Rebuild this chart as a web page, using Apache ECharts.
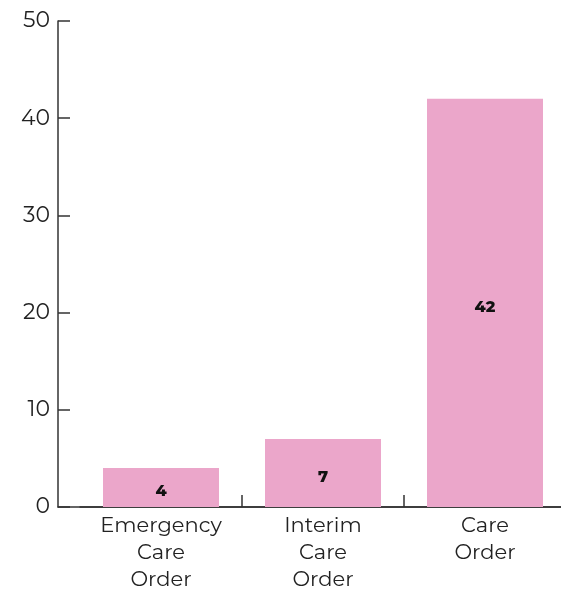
<!DOCTYPE html>
<html>
<head>
<meta charset="utf-8">
<script src="https://cdn.jsdelivr.net/npm/echarts@6/dist/echarts.min.js"></script>
<style>
  html, body { margin: 0; padding: 0; background: #fff; }
  #chart { width: 561px; height: 591px; }
</style>
</head>
<body>
<div id="chart"></div>
<script>
// Court order types and counts
const categories = ['Emergency\nCare\nOrder', 'Interim\nCare\nOrder', 'Care\nOrder'];
const counts = [4, 7, 42];
const yTicks = { min: 0, max: 50, interval: 10 };

const FONT = 'Montserrat, Lato, "Noto Sans", sans-serif';
const AXIS_COLOR = '#333';
const TEXT_COLOR = '#222';
const BAR_COLOR = '#eba6ca';

const chart = echarts.init(document.getElementById('chart'), null, { renderer: 'canvas' });

chart.setOption({
  animation: false,
  grid: [
    // plotting area for the bars
    { left: 80, right: -5, top: 21, bottom: 84, outerBoundsMode: 'none', containLabel: false },
    // frame holding the value axis and the start of the baseline
    { left: 58, right: 0, top: 21, bottom: 84, outerBoundsMode: 'none', containLabel: false }
  ],
  xAxis: [
    {
      type: 'category',
      gridIndex: 0,
      data: categories,
      boundaryGap: true,
      axisLine: { show: true, lineStyle: { color: AXIS_COLOR, width: 1.5 } },
      axisTick: {
        show: true,
        length: 12,
        inside: true,
        interval: (idx) => idx !== 0,
        lineStyle: { color: AXIS_COLOR, width: 1.5 }
      },
      axisLabel: {
        color: TEXT_COLOR,
        fontFamily: FONT,
        fontSize: 21,
        lineHeight: 27,
        margin: 5,
        interval: 0
      }
    },
    {
      type: 'category',
      gridIndex: 1,
      data: [''],
      axisLine: { show: true, lineStyle: { color: AXIS_COLOR, width: 1.5 } },
      axisTick: { show: false },
      axisLabel: { show: false }
    }
  ],
  yAxis: [
    {
      type: 'value',
      gridIndex: 0,
      min: yTicks.min, max: yTicks.max, interval: yTicks.interval,
      show: false
    },
    {
      type: 'value',
      gridIndex: 1,
      min: yTicks.min, max: yTicks.max, interval: yTicks.interval,
      axisLine: { show: true, lineStyle: { color: AXIS_COLOR, width: 1.5 } },
      axisTick: { show: true, inside: true, length: 12, lineStyle: { color: AXIS_COLOR, width: 1.5 } },
      splitLine: { show: false },
      axisLabel: {
        color: TEXT_COLOR,
        fontFamily: FONT,
        fontSize: 22,
        margin: 8
      }
    }
  ],
  series: [
    {
      type: 'bar',
      xAxisIndex: 0,
      yAxisIndex: 0,
      data: counts,
      barWidth: 116,
      itemStyle: { color: BAR_COLOR },
      label: {
        show: true,
        position: 'inside',
        offset: [0, 4],
        color: '#111',
        fontFamily: FONT,
        fontWeight: 800,
        fontSize: 16
      }
    }
  ]
});
</script>
</body>
</html>
